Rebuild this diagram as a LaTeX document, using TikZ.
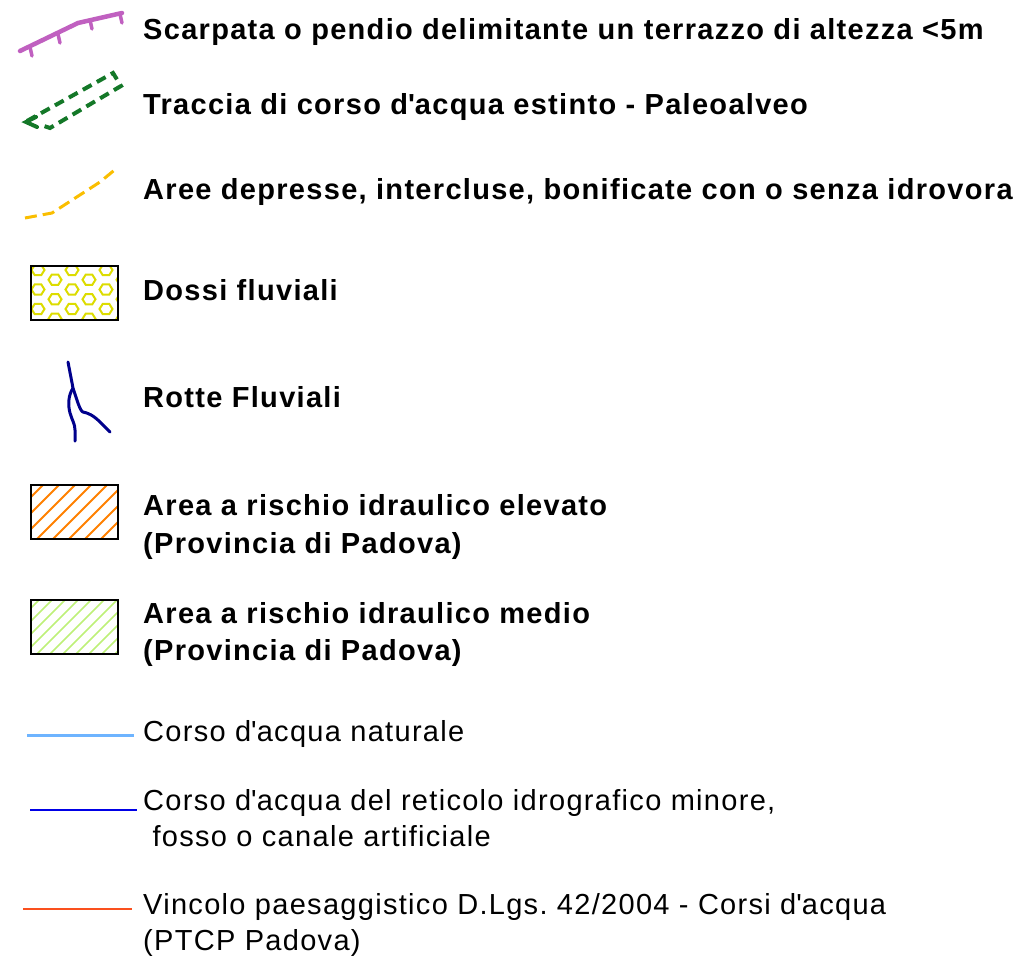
\documentclass[tikz,border=0pt]{standalone}
\usepackage{fontspec}
\setmainfont{Liberation Sans}[LetterSpace=4.5]
\frenchspacing
\definecolor{cPurple}{RGB}{192,96,192}
\definecolor{cDkGreen}{RGB}{20,120,40}
\definecolor{cYelOr}{RGB}{250,190,0}
\definecolor{cHex}{RGB}{220,220,0}
\definecolor{cRotte}{RGB}{0,0,140}
\definecolor{cOrange}{RGB}{255,128,0}
\definecolor{cLtGreen}{RGB}{190,240,120}
\definecolor{cLtBlue}{RGB}{110,180,255}
\definecolor{cBlue}{RGB}{0,0,230}
\definecolor{cRed}{RGB}{250,80,30}
\begin{document}
\begin{tikzpicture}[x=1pt,y=-1pt,
  lblb/.style={anchor=base west, inner sep=0pt, font=\fontsize{29}{34}\selectfont\bfseries},
  lblr/.style={anchor=base west, inner sep=0pt, font=\fontsize{29}{34}\selectfont},
  legbox/.style={draw=black, line width=1.3pt},
  symline/.style={line cap=round, line join=round}]
\useasboundingbox (0,0) rectangle (1024,960);

% 1 Scarpata
\draw[symline, cPurple, line width=4.5pt] (20,51) -- (78,23) -- (122,13);
\foreach \x/\y in {30/47, 58/34, 90/20, 120/14}
  \draw[symline, cPurple, line width=3.5pt] (\x,\y) -- ++(2,9);
\node[lblb] (t1) at (143,40) {Scarpata o pendio delimitante un terrazzo di altezza <5m};

% 2 Paleoalveo
\draw[cDkGreen, line width=4pt, dash pattern=on 10pt off 6pt]
  (27,121) -- (113,73) -- (121,86) -- (50,128) -- (44,126);
\draw[cDkGreen, line width=4pt, line cap=round] (36,117) -- (26,122) -- (37,127);
\node[lblb] (t2) at (143,115) {Traccia di corso d\textquotesingle acqua estinto - Paleoalveo};

% 3 Aree depresse
\draw[cYelOr, line width=3pt, dash pattern=on 12pt off 6pt]
  (25,218) -- (52,213) -- (100,182) -- (117,168);
\node[lblb] (t3) at (143,199) {Aree depresse, intercluse, bonificate con o senza idrovora};

% 4 Dossi fluviali
\begin{scope}
\clip (31,266) rectangle (118,320);
\foreach \i in {0,...,5}{
  \foreach \j in {0,...,3}{
    \pgfmathsetmacro{\hx}{38+17*\i}
    \pgfmathsetmacro{\hy}{270+19.5*\j+9.75*mod(\i,2)}
    \draw[cHex, line width=2pt] (\hx-6.5,\hy) -- (\hx-3.2,\hy-5.2) -- (\hx+3.2,\hy-5.2) -- (\hx+6.5,\hy) -- (\hx+3.2,\hy+5.2) -- (\hx-3.2,\hy+5.2) -- cycle;
  }
}
\end{scope}
\draw[legbox] (31,266) rectangle (118,320);
\node[lblb] (t4) at (143,300) {Dossi fluviali};

% 5 Rotte fluviali
\draw[symline, cRotte, line width=3pt] (68,362) -- (73,388) .. controls (77,400) and (80,411) .. (83,412)
  .. controls (88,413) and (93,415) .. (100,422) -- (110,432);
\draw[symline, cRotte, line width=3pt] (73,388) .. controls (68,396) and (68,405) .. (70,413)
  .. controls (72,420) and (75,424) .. (75,430) -- (75,441);
\node[lblb] (t5) at (143,407) {Rotte Fluviali};

% 6 Area elevato
\begin{scope}
\clip (31,485) rectangle (118,539);
\foreach \k in {-5,...,6}
  \draw[cOrange, line width=1.8pt] (31+16*\k,545) -- ++(70,-70);
\end{scope}
\draw[legbox] (31,485) rectangle (118,539);
\node[lblb] (t6a) at (143,515) {Area a rischio idraulico elevato};
\node[lblb] (t6b) at (143,553) {(Provincia di Padova)};

% 7 Area medio
\begin{scope}
\clip (31,600) rectangle (118,654);
\foreach \k in {-6,...,8}
  \draw[cLtGreen, line width=1.5pt] (31+13*\k,660) -- ++(70,-70);
\end{scope}
\draw[legbox] (31,600) rectangle (118,654);
\node[lblb] (t7a) at (143,623) {Area a rischio idraulico medio};
\node[lblb] (t7b) at (143,660) {(Provincia di Padova)};

% 8 lines
\draw[cLtBlue, line width=3pt] (27,735) -- (134,735);
\node[lblr] (t8) at (143,741) {Corso d\textquotesingle acqua naturale};

\draw[cBlue, line width=2.4pt] (30,810) -- (137,810);
\node[lblr] (t9a) at (143,810) {Corso d\textquotesingle acqua del reticolo idrografico minore,};
\node[lblr] (t9b) at (143,846) {\ fosso o canale artificiale};

\draw[cRed, line width=2.8pt] (23,909) -- (132,909);
\node[lblr] (t10a) at (143,914) {Vincolo paesaggistico D.Lgs. 42/2004 - Corsi d\textquotesingle acqua};
\node[lblr] (t10b) at (143,950) {(PTCP Padova)};
\end{tikzpicture}
\end{document}
